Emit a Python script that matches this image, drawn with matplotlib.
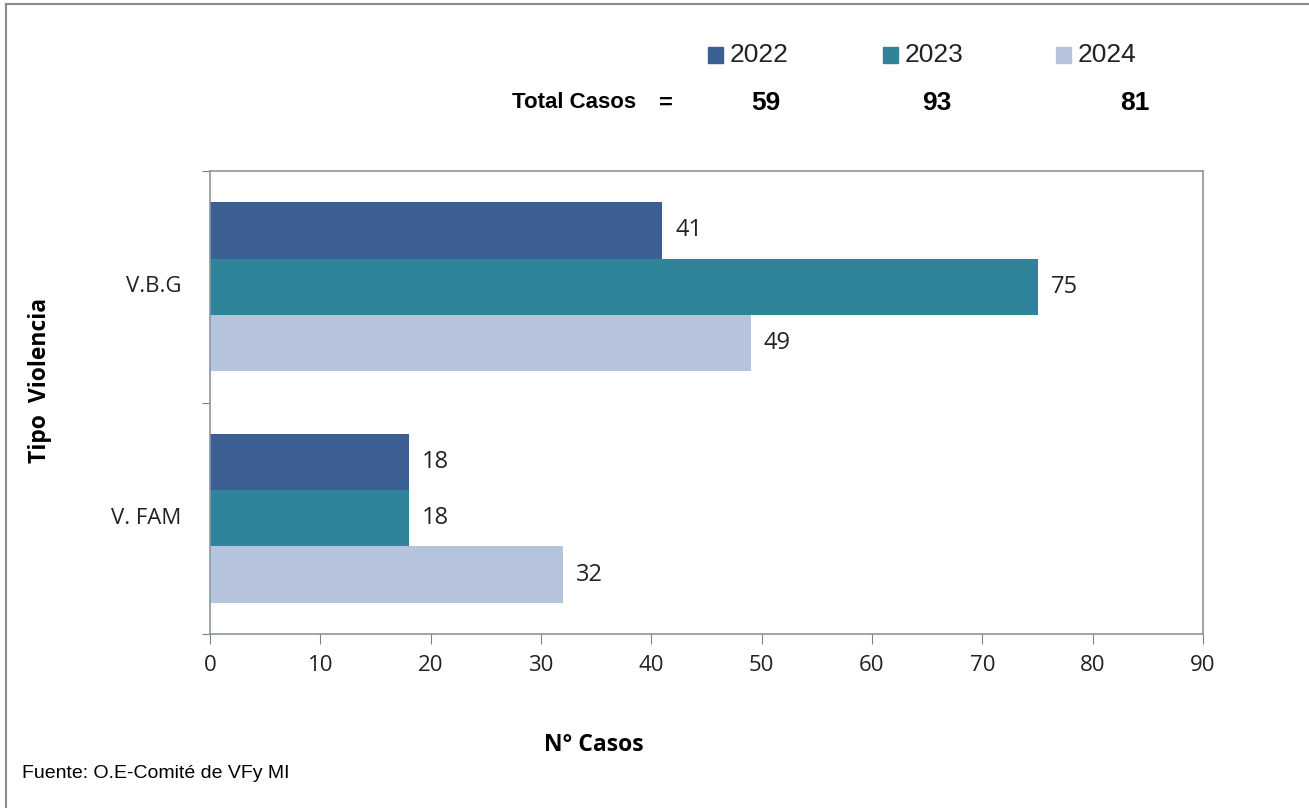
import numpy as np
import matplotlib.pyplot as plt
from matplotlib.lines import Line2D
from matplotlib.patches import Rectangle

categories = ['V.B.G', 'V. FAM']
years = ['2022', '2023', '2024']
values = {
    '2022': [41, 18],
    '2023': [75, 18],
    '2024': [49, 32],
}
totals = [59, 93, 81]
colors = ['#3C6094', '#2F8499', '#B5C3DC']

NARROW = ['Liberation Sans Narrow', 'Liberation Sans']

W, H = 1309, 808
fig = plt.figure(figsize=(W / 100, H / 100), dpi=100)
fig.patch.set_facecolor('white')

ax = fig.add_axes([210 / W, 1 - 634 / H, (1203 - 210) / W, (634 - 171) / H])

# grouped horizontal bars
y = np.arange(len(categories))
bar_h = 0.2435
for i, yr in enumerate(years):
    pos = y + (i - 1) * bar_h
    ax.barh(pos, values[yr], height=bar_h, color=colors[i], edgecolor='none')
    for p, v in zip(pos, values[yr]):
        ax.text(v + 1.2, p, str(v), va='center', ha='left',
                fontsize=17, family='Open Sans', color='#222222')

ax.set_xlim(0, 90)
ax.set_ylim(1.5, -0.5)
ax.set_xticks(np.arange(0, 91, 10))
ax.set_yticks([-0.5, 0.5, 1.5])
ax.set_yticklabels([])
ax.tick_params(axis='x', direction='out', length=7, color='#808080',
               labelsize=16, pad=8, labelcolor='#222222')
ax.tick_params(axis='y', direction='out', length=6, color='#808080')
for lab in ax.get_xticklabels():
    lab.set_family('Open Sans')
for s in ax.spines.values():
    s.set_color('#8A96A3')
    s.set_linewidth(1.2)

# category labels
for yy, c in zip(y, categories):
    ax.text(-2.6, yy, c, ha='right', va='center', fontsize=16,
            family='Open Sans', color='#222222')

# axis titles
fig.text(40 / W, 1 - 380 / H, 'Tipo  Violencia', rotation=90, ha='center',
         va='center', fontsize=16.5, fontweight='bold', family='Open Sans')
fig.text(594 / W, 1 - 745 / H, 'N° Casos', ha='center', va='center',
         fontsize=16.5, fontweight='bold', family='Open Sans')
fig.text(22 / W, 1 - 773 / H, 'Fuente: O.E-Comité de VFy MI', ha='left',
         va='center', fontsize=14, family=NARROW)

# legend and totals row
leg_sq_x = [708, 883, 1056]
for xs, yr, col in zip(leg_sq_x, years, colors):
    fig.patches.append(Rectangle((xs / W, 1 - 63 / H), 15 / W, 16 / H,
                                 transform=fig.transFigure, color=col))
    fig.text((xs + 22) / W, 1 - 55 / H, yr, ha='left', va='center',
             fontsize=19, family=NARROW, color='#222222')

fig.text(574 / W, 1 - 103 / H, 'Total Casos', ha='center', va='center',
         fontsize=16, fontweight='bold', family=NARROW)
fig.text(666 / W, 1 - 103 / H, '=', ha='center', va='center',
         fontsize=17, fontweight='bold', family='Liberation Sans')
tot_x = [766, 937, 1135]
for xs, t in zip(tot_x, totals):
    fig.text(xs / W, 1 - 103 / H, str(t), ha='center', va='center',
             fontsize=19, fontweight='bold', family=NARROW)

# outer frame (top and left edges visible)
fig.lines.append(Line2D([6 / W, 1], [1 - 4 / H, 1 - 4 / H],
                        transform=fig.transFigure, color='#8C8C8C', lw=1.5))
fig.lines.append(Line2D([6 / W, 6 / W], [0, 1 - 4 / H],
                        transform=fig.transFigure, color='#8C8C8C', lw=1.5))

fig.savefig('out.png', dpi=100)
